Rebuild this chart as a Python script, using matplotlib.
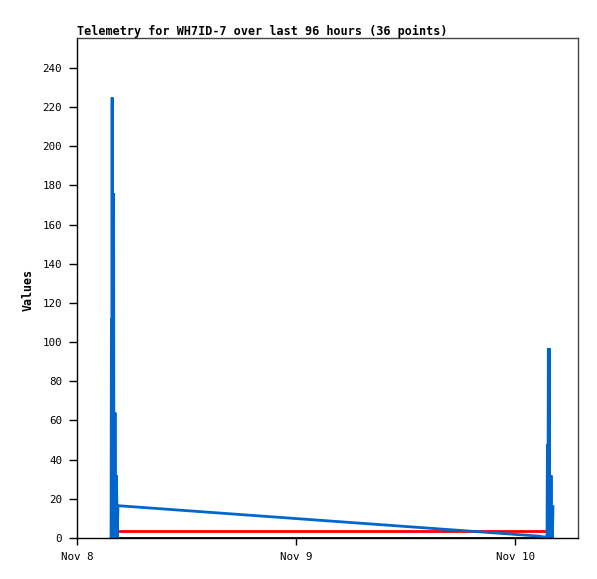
import matplotlib
matplotlib.use("Agg")
import matplotlib.pyplot as plt

# hours since Nov 8 00:00
times = [3.73, 3.77, 3.81, 3.85, 3.89, 3.93, 3.97, 4.01, 4.05, 4.09,
         4.13, 4.17, 4.21, 4.25, 4.29, 4.33, 4.41, 4.49,
         50.5, 50.8, 51.1, 51.35, 51.50, 51.55, 51.60, 51.65, 51.70, 51.75,
         51.80, 51.85, 51.90, 51.95, 52.00, 52.05, 52.10, 52.16]
blue_vals = [0, 112, 0, 225, 0, 176, 0, 176, 0, 64,
             0, 64, 0, 32, 0, 32, 0, 16.5,
             1.0, 0.8, 0.6, 0.5, 0, 48, 0, 97, 0, 97,
             0, 32, 0, 32, 0, 16, 0, 16]
red_vals = [3.6] * len(times)
black_vals = [0] * len(times)

xtick_pos = [0, 24, 48]
xtick_labels = ["Nov 8", "Nov 9", "Nov 10"]
ytick_vals = list(range(0, 241, 20))

fig = plt.figure(figsize=(5.97, 5.79), dpi=100)
ax = fig.add_axes([77/597, 41/579, 501/597, 500/579])

n_base = sum(1 for t in times if t <= 51.5)
ax.plot(times[:n_base], black_vals[:n_base], color="black", lw=2)
ax.plot(times[:n_base], red_vals[:n_base], color="#ff0000", lw=2)
ax.plot(times, blue_vals, color="#0066cc", lw=2, solid_joinstyle="miter")

ax.set_xlim(0, 54.9)
ax.set_ylim(0, 255.3)
ax.set_xticks(xtick_pos)
ax.set_xticklabels(xtick_labels)
ax.set_yticks(ytick_vals)

mono = "DejaVu Sans Mono"
for lab in ax.get_xticklabels() + ax.get_yticklabels():
    lab.set_family(mono)
    lab.set_fontsize(7.8)
ax.tick_params(axis="y", direction="out", length=5.8, width=1, color="black", pad=5)
ax.tick_params(axis="x", direction="out", length=5, width=1, color="black", pad=5)

for s in ["left", "bottom"]:
    ax.spines[s].set_color("black")
    ax.spines[s].set_linewidth(1)
for s in ["right", "top"]:
    ax.spines[s].set_color("#444444")
    ax.spines[s].set_linewidth(1)

ax.set_ylabel("Values", family=mono, fontweight="bold", fontsize=8.4)
ax.yaxis.set_label_coords(-0.084, 0.496)
fig.text(77/597, 1 - 31/579, "Telemetry for WH7ID-7 over last 96 hours (36 points)",
         family=mono, fontweight="bold", fontsize=8.45, ha="left", va="center")

fig.savefig("out.png", dpi=100)
